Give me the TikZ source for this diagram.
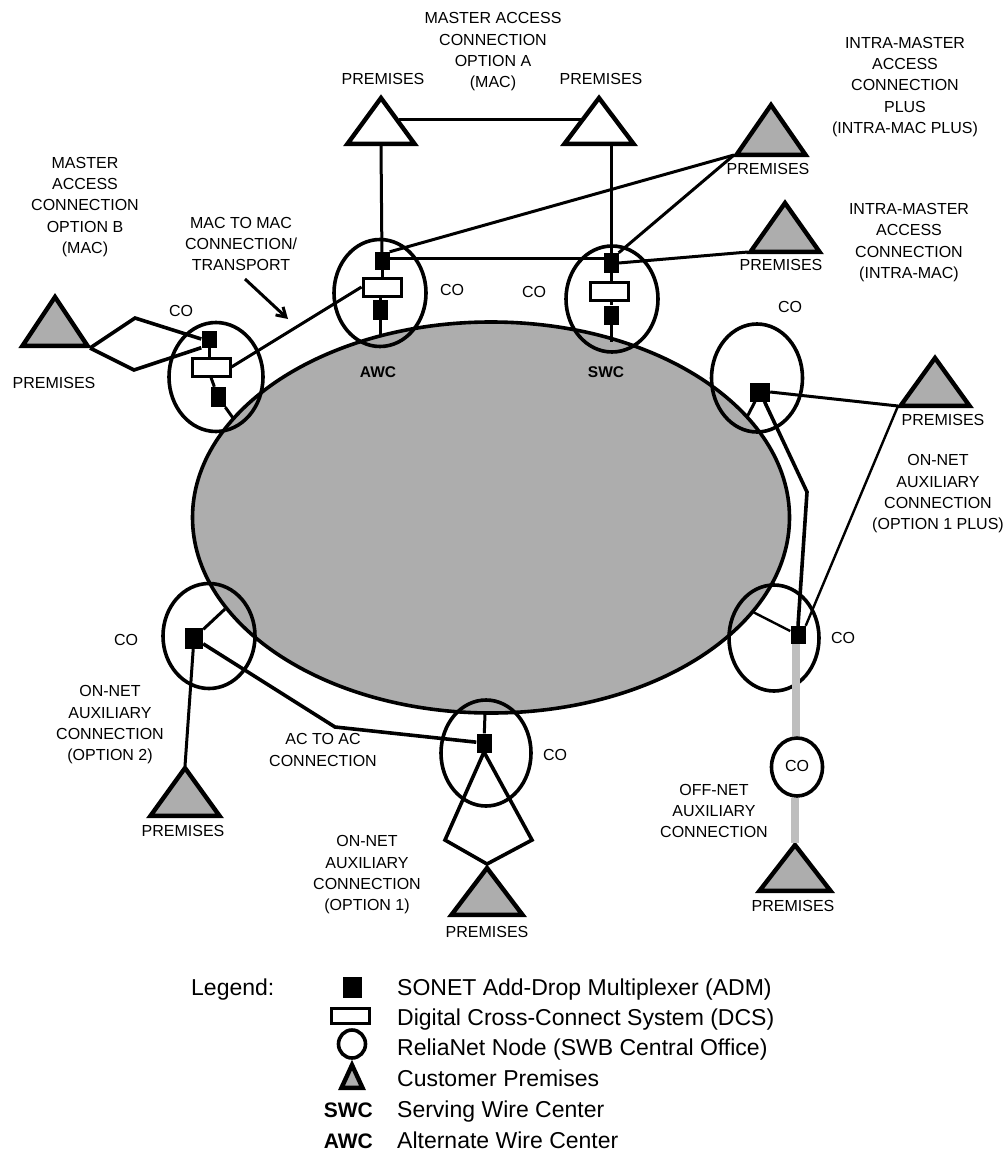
\documentclass[tikz,border=0pt]{standalone}
\usepackage{fontspec}
\setmainfont{Liberation Sans}
\usetikzlibrary{shapes.geometric,arrows.meta}
\definecolor{netgray}{HTML}{ADADAD}
\definecolor{linkgray}{HTML}{BEBEBE}
\tikzset{
  netfill/.style={draw=black,line width=3.6pt,fill=netgray},
  cocircle/.style={draw=black,line width=3.6pt,shape=ellipse,inner sep=0pt},
  adm/.style={draw=none,fill=black,shape=rectangle,inner sep=0pt,minimum width=15pt,minimum height=18pt},
  dcs/.style={draw=black,fill=white,line width=3pt,shape=rectangle,inner sep=0pt,minimum width=38pt,minimum height=18pt},
  thick link/.style={draw=black,line width=3.6pt,line join=miter},
  mid link/.style={draw=black,line width=3pt,line join=miter},
  thin link/.style={draw=black,line width=2.4pt},
  gray link/.style={draw=linkgray,line width=8pt},
  lbl/.style={font=\fontsize{16}{21.3}\selectfont,align=center,inner sep=0pt,text=black},
  boldlbl/.style={font=\fontsize{15.5}{18}\selectfont\bfseries,inner sep=0pt},
  leg/.style={font=\fontsize{23}{26}\selectfont,anchor=base west,inner sep=0pt},
  legb/.style={font=\fontsize{21}{26}\selectfont\bfseries,anchor=base east,inner sep=0pt},
  tri/.style={line width=4.4pt,line join=miter,draw=black},
}
% name, apex x, outer apex y, outer half base, outer base y, fill colour
\newcommand{\premtri}[6]{%
  \draw[tri,fill=#6] (#2,#3+2) -- (#2-#4+2.5,#5-2.2) -- (#2+#4-2.5,#5-2.2) -- cycle;
  \coordinate (#1-a) at (#2,#3);
  \coordinate (#1-l) at (#2-#4,#5-2);
  \coordinate (#1-r) at (#2+#4,#5);
  \coordinate (#1-b) at (#2,#5);
}
\begin{document}
\begin{tikzpicture}[x=1pt,y=-1pt]
\useasboundingbox (0,0) rectangle (1005,1153);
% core ring
\node[netfill,shape=ellipse,inner sep=0pt,minimum width=597pt,minimum height=391pt] (net) at (491,517.5) {};
% central offices
\node[cocircle,minimum width=92pt,minimum height=107pt] (coA) at (380,293) {};
\node[cocircle,minimum width=92pt,minimum height=106pt] (coS) at (612,299) {};
\node[cocircle,minimum width=94pt,minimum height=109pt] (coL) at (216,377) {};
\node[cocircle,minimum width=91pt,minimum height=108pt] (coR) at (757,378) {};
\node[cocircle,minimum width=92pt,minimum height=105pt] (coW) at (209,636) {};
\node[cocircle,minimum width=90pt,minimum height=106pt] (coE) at (774,638) {};
\node[cocircle,minimum width=90pt,minimum height=106pt] (coB) at (486,753) {};
% gray off-net link below the small CO
\premtri{pOff}{795}{843}{38}{893}{netgray}
\coordinate (offA) at (796,640);
\node[cocircle,minimum width=51pt,minimum height=58pt,fill=white] (coOff) at (797,767) {};
\draw[gray link] (offA) -- (offA |- coOff.north);
\draw[gray link] (coOff.south -| pOff-a) -- (pOff-a);
\node[lbl] (coOffT) at (797,766) {CO};
% premises
\premtri{pTL}{381}{96}{36}{146}{white}
\premtri{pTR}{599}{96}{37}{146}{white}
\premtri{pPlus}{771}{103}{37}{157}{netgray}
\premtri{pIntra}{785}{201}{37}{254}{netgray}
\premtri{pRight}{935}{356}{37}{408}{netgray}
\premtri{pLeft}{55}{295}{35}{348}{netgray}
\premtri{pLow}{185}{766}{37}{818}{netgray}
\premtri{pBot}{487}{866}{38}{917}{netgray}
% equipment
\node[adm] (aA) at (382,261) {};
\node[dcs] (dA) at (382,287) {};
\node[adm,minimum height=20pt] (bA) at (380,310) {};
\node[adm,minimum height=20pt] (aS) at (611,263) {};
\node[dcs] (dS) at (609,291) {};
\node[adm,minimum height=19pt] (bS) at (611,315) {};
\node[adm,minimum height=17pt] (aL) at (209,339) {};
\node[dcs] (dL) at (211,367) {};
\node[adm,minimum height=20pt] (bL) at (218,397) {};
\node[adm,minimum width=20pt,minimum height=19pt] (aR) at (760,392) {};
\node[adm,minimum width=18pt,minimum height=21pt] (aW) at (194,638) {};
\node[adm,minimum height=18pt] (aE) at (798,635) {};
\node[adm,minimum height=19pt] (aB) at (484,743) {};
% waypoints
\coordinate (mbU) at (135,318);
\coordinate (mbD) at (134,370);
\coordinate (lEnd) at (233,418);
\coordinate (aEnd) at (380,337);
\coordinate (sEnd) at (611,342);
\coordinate (rBend) at (807,492);
\coordinate (rStub) at (747,417);
\coordinate (eStub) at (753,612);
\coordinate (wStub) at (225,609);
\coordinate (acBend) at (335,727);
\coordinate (bStub) at (485,713);
\coordinate (bdT) at (484,752);
\coordinate (bdL) at (445,840);
\coordinate (bdR) at (532,840);
\coordinate (bdB) at (487,864);
\coordinate (arrowS) at (245,279);
\coordinate (arrowE) at (288,319);
\coordinate (tlMid) at (399,120);
\coordinate (trMid) at (581,120);
\coordinate (hA) at (382,258);
\coordinate (hS) at (611,258);
% connectors
\draw[mid link] (tlMid) -- (trMid);
\draw[mid link] (pTL-b) -- (aA);
\draw[mid link] (aS |- pTR-b) -- (aS);
\draw[mid link] (hA) -- (hS);
\draw[mid link] (aA.north east) -- (pPlus-l);
\draw[mid link] (aS.north east) -- (pPlus-l);
\draw[mid link] (aS.east) -- (pIntra-l);
\draw[mid link] (aA) -- (dA);
\draw[mid link] (dA.south -| bA) -- (bA);
\draw[mid link] (bA) -- (aEnd);
\draw[mid link] (aS) -- (dS.north -| aS);
\draw[mid link] (dS.south -| bS) -- (bS);
\draw[mid link] (bS) -- (sEnd);
\draw[mid link] (dL.east) -- (dA.west);
\draw[thick link] (pLeft-r) -- (mbU) -- (aL.west);
\draw[thick link] (pLeft-r) -- (mbD) -- (aL.south west);
\draw[mid link] (aL) -- (dL.north -| aL);
\draw[mid link] (dL.south) -- (bL);
\draw[mid link] (bL) -- (lEnd);
\draw[mid link] (aR.east) -- (pRight-l);
\draw[thick link] (aR) -- (rBend) -- (aE.north);
\draw[mid link] (aR) -- (rStub);
\draw[thin link] (pRight-l) -- (aE.north east);
\draw[thin link] (eStub) -- (aE);
\draw[mid link] (aW) -- (wStub);
\draw[thick link] (aW) -- (acBend) -- (aB);
\draw[mid link] (aW) -- (pLow-a);
\draw[mid link] (aB) -- (bStub);
\draw[thick link] (bdT) -- (bdL) -- (bdB) -- (bdR) -- cycle;
\draw[mid link,-{Straight Barb[length=9pt,width=11pt]}] (arrowS) -- (arrowE);
% labels
\node[lbl] (tA) at (493,52) {MASTER ACCESS\\CONNECTION\\OPTION A\\(MAC)};
\node[lbl] (tP1) at (383,79) {PREMISES};
\node[lbl] (tP2) at (601,79) {PREMISES};
\node[lbl] (tP3) at (768,169) {PREMISES};
\node[lbl] (tP4) at (781,265) {PREMISES};
\node[lbl] (tP5) at (943,420) {PREMISES};
\node[lbl] (tP6) at (54,383) {PREMISES};
\node[lbl] (tP7) at (183,831) {PREMISES};
\node[lbl] (tP8) at (487,932) {PREMISES};
\node[lbl] (tP9) at (793,906) {PREMISES};
\node[lbl] (tPlus) at (905,87) {INTRA-MASTER\\ACCESS\\CONNECTION\\PLUS\\(INTRA-MAC PLUS)};
\node[lbl] (tIntra) at (909,242.5) {INTRA-MASTER\\ACCESS\\CONNECTION\\(INTRA-MAC)};
\node[lbl] (tB) at (85,207) {MASTER\\ACCESS\\CONNECTION\\OPTION B\\(MAC)};
\node[lbl] (tM) at (241,244) {MAC TO MAC\\CONNECTION/\\TRANSPORT};
\node[lbl] (c1) at (181,311) {CO};
\node[lbl] (c2) at (452,290) {CO};
\node[lbl] (c3) at (534,292) {CO};
\node[lbl] (c4) at (790,307) {CO};
\node[lbl] (c5) at (126,640) {CO};
\node[lbl] (c6) at (843,638) {CO};
\node[lbl] (c7) at (555,755) {CO};
\node[boldlbl] (tAWC) at (378,372) {AWC};
\node[boldlbl] (tSWC) at (606,372) {SWC};
\node[lbl] (tO1P) at (938,494) {ON-NET\\AUXILIARY\\CONNECTION\\(OPTION 1 PLUS)};
\node[lbl] (tO2) at (110,725) {ON-NET\\AUXILIARY\\CONNECTION\\(OPTION 2)};
\node[lbl] (tAC) at (323,750) {AC TO AC\\CONNECTION};
\node[lbl] (tO1) at (367,875) {ON-NET\\AUXILIARY\\CONNECTION\\(OPTION 1)};
\node[lbl] (tOff) at (714,811) {OFF-NET\\AUXILIARY\\CONNECTION};
% legend
\node[leg] (lT) at (191,995) {Legend:};
\node[adm,minimum width=19pt,minimum height=21pt] (lAdm) at (352,987) {};
\node[dcs,minimum width=38pt,minimum height=15pt] (lDcs) at (350,1016) {};
\node[cocircle,minimum width=27pt,minimum height=28pt,line width=3.6pt] (lCo) at (352,1044) {};
\premtri{lTri}{352}{1063}{13}{1090}{netgray}
\node[legb] (lS) at (373,1117) {SWC};
\node[legb] (lA) at (373,1148) {AWC};
\node[leg] (l1) at (397,995) {SONET Add-Drop Multiplexer (ADM)};
\node[leg] (l2) at (397,1025) {Digital Cross-Connect System (DCS)};
\node[leg] (l3) at (397,1055) {ReliaNet Node (SWB Central Office)};
\node[leg] (l4) at (397,1086) {Customer Premises};
\node[leg] (l5) at (397,1117) {Serving Wire Center};
\node[leg] (l6) at (397,1148) {Alternate Wire Center};
\end{tikzpicture}
\end{document}
